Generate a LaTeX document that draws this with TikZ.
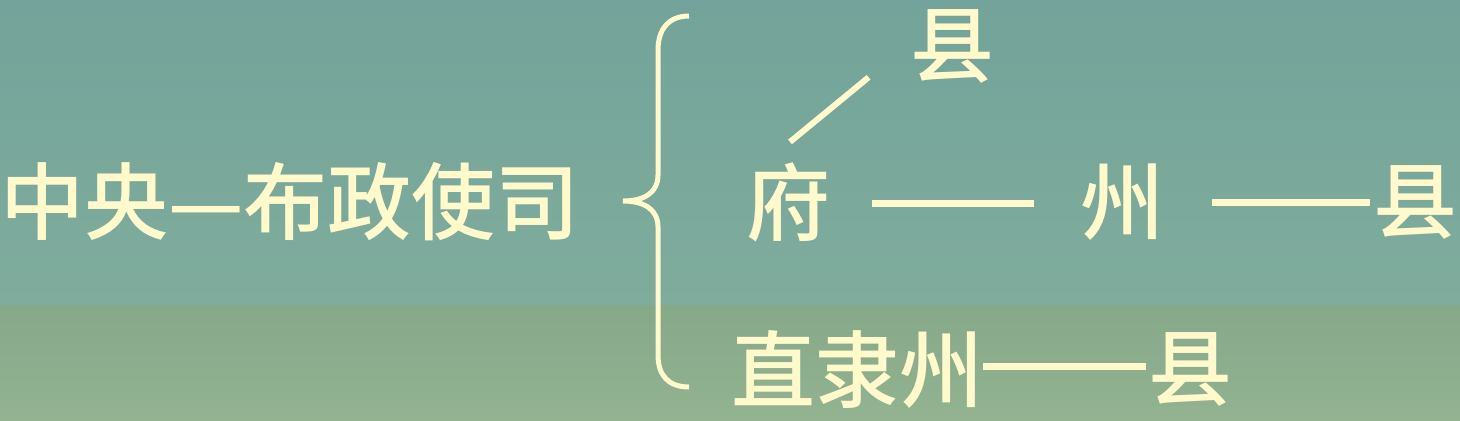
\documentclass[tikz,border=0pt]{standalone}
\usepackage{fontspec}
\newfontfamily\cjk{Noto Sans CJK SC Medium}
\usepackage{tikz}
\usetikzlibrary{calc}
\definecolor{cream}{RGB}{255,249,204}
\definecolor{tealtop}{RGB}{115,163,154}
\definecolor{tealmid}{RGB}{127,172,156}
\definecolor{greentop}{RGB}{134,169,138}
\definecolor{greenbot}{RGB}{147,179,145}

\begin{document}
\begin{tikzpicture}[x=0.5pt,y=-0.5pt,
    lbl/.style={inner sep=0pt, text=cream, font=\cjk\fontsize{42pt}{42pt}\selectfont},
    link/.style={draw=cream, line width=3.5pt}]
      \useasboundingbox (0,0) rectangle (1460,420);
      \shade[top color=tealtop, bottom color=tealmid] (0,0) rectangle (1460,305);
      \shade[top color=greentop, bottom color=greenbot] (0,305) rectangle (1460,420);

      \node(C)[lbl] at (290,202) {中央—布政使司};

      \draw[cream, line width=2.5pt] (689,16) .. controls (668,16) and (658,30) .. (658,50) -- (658,175)
          .. controls (658,192) and (645,201) .. (623,201)
          .. controls (645,201) and (658,210) .. (658,227) -- (658,355)
          .. controls (658,375) and (668,387) .. (689,387);

      \node(F)[lbl] at (788,202) {府};
      \node(XA)[lbl] at (952,46) {县};
      \node(Z)[lbl] at (1122,202) {州};
      \node(XB)[lbl] at (1415,202) {县};

      \node(ZL)[lbl] at (857,369) {直隶州};
      \node(XC)[lbl] at (1190,369) {县};

      \draw[link, line width=3pt] ([shift={(2,-20)}]F.north) -- ([shift={(-41,-6)}]XA.south west);
      \draw[link, shorten <=21pt, shorten >=23pt] ([yshift=-0.5pt]F.east) -- ([yshift=-0.5pt]Z.west);
      \draw[link, shorten <=24pt, shorten >=1.5pt] (Z.east) -- (XB.west);
      \draw[link, shorten >=1pt] ([yshift=1.5pt]ZL.east) -- ([yshift=1.5pt]XC.west);
\end{tikzpicture}
\end{document}
